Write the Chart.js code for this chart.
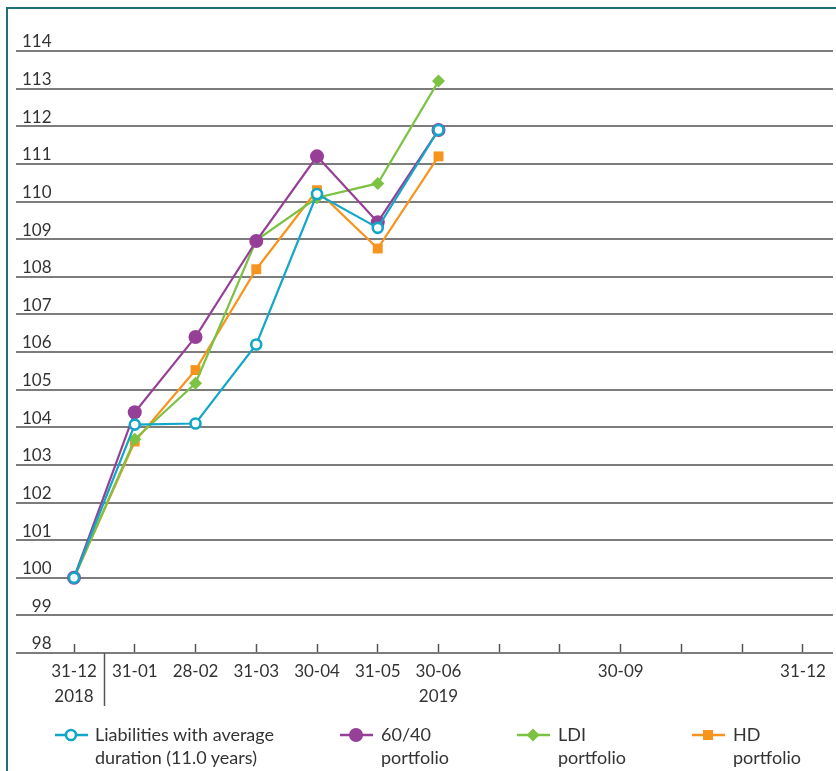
<!DOCTYPE html>
<html>
<head>
<meta charset="utf-8">
<script src="https://cdn.jsdelivr.net/npm/chart.js@4/dist/chart.umd.min.js"></script>
<style>
  html, body { margin: 0; padding: 0; background: #fff; }
  #wrap { position: relative; width: 836px; height: 771px; overflow: hidden; font-family: Lato, "Open Sans", sans-serif; }
  #frame { position: absolute; left: 6px; top: 7px; right: 0; bottom: 0; border-left: 2px solid #1f6f78; border-top: 2px solid #1f6f78; pointer-events: none; }
  canvas { position: absolute; left: 0; top: 0; }
  .item { position: absolute; top: 0; }
  .item svg { position: absolute; top: 724px; }
  .item .txt { position: absolute; top: 723px; font-size: 18px; line-height: 22.5px; color: #333; white-space: nowrap; }
</style>
</head>
<body>
<div id="wrap">
  <canvas id="c" width="836" height="771"></canvas>
  <div id="frame"></div>
  <div id="legend"></div>
</div>
<script>
// Month-end dates on the x axis (index 0 = 31-12-2018), with year captions
const dateLabels = ['31-12', '31-01', '28-02', '31-03', '30-04', '31-05', '30-06', '', '', '30-09', '', '', '31-12'];
const yearLabels = ['2018', '', '', '', '', '', '2019', '', '', '', '', '', ''];

// Index values, rebased to 100 at 31-12-2018
const liabilities = [100, 104.07, 104.1, 106.2, 110.2, 109.3, 111.9];
const portfolio6040 = [100, 104.4, 106.4, 108.95, 111.2, 109.45, 111.9];
const ldiPortfolio = [100, 103.68, 105.17, 108.97, 110.1, 110.48, 113.2];
const hdPortfolio = [100, 103.62, 105.52, 108.2, 110.3, 108.75, 111.2];

// Value axis range
const yMin = 98;
const yMax = 114;

const seriesNames = [
  ['Liabilities with average', 'duration (11.0 years)'],
  ['60/40', 'portfolio'],
  ['LDI', 'portfolio'],
  ['HD', 'portfolio']
];

const colors = ['#12a6c8', '#963f97', '#7cc243', '#f7941e'];

const toPoints = arr => arr.map((v, i) => ({ x: i, y: v }));

const datasets = [
  { label: seriesNames[0].join(' '), data: toPoints(liabilities), borderColor: colors[0], backgroundColor: '#ffffff',
    pointStyle: 'circle', pointRadius: 5, pointBorderWidth: 2.6, pointBorderColor: colors[0], pointBackgroundColor: '#ffffff' },
  { label: seriesNames[1].join(' '), data: toPoints(portfolio6040), borderColor: colors[1], backgroundColor: colors[1],
    pointStyle: 'circle', pointRadius: 7, pointBorderWidth: 0, pointBackgroundColor: colors[1] },
  { label: seriesNames[2].join(' '), data: toPoints(ldiPortfolio), borderColor: colors[2], backgroundColor: colors[2],
    pointStyle: 'rectRot', pointRadius: 6.5, pointBorderWidth: 0, pointBackgroundColor: colors[2] },
  { label: seriesNames[3].join(' '), data: toPoints(hdPortfolio), borderColor: colors[3], backgroundColor: colors[3],
    pointStyle: 'rect', pointRadius: 7, pointBorderWidth: 0, pointBackgroundColor: colors[3] }
];
datasets.forEach(d => { d.borderWidth = 2.2; d.tension = 0; d.fill = false; });

// Short vertical rule under the axis separating 2018 from 2019
const yearDivider = {
  id: 'yearDivider',
  afterDraw(chart) {
    const x = Math.round(chart.scales.x.getPixelForValue(0.5)) + 0.5;
    const top = chart.chartArea.bottom;
    const ctx = chart.ctx;
    ctx.save();
    ctx.strokeStyle = '#555';
    ctx.lineWidth = 1.5;
    ctx.beginPath();
    ctx.moveTo(x, top);
    ctx.lineTo(x, top + 53);
    ctx.stroke();
    ctx.restore();
  }
};

Chart.defaults.font.family = 'Lato, "Open Sans", sans-serif';
Chart.defaults.color = '#333';

new Chart(document.getElementById('c'), {
  type: 'line',
  data: { datasets },
  options: {
    responsive: false,
    animation: false,
    devicePixelRatio: 1,
    layout: { autoPadding: false, padding: { left: 16, right: 3, top: 51, bottom: 58 } },
    plugins: { legend: { display: false }, tooltip: { enabled: false } },
    scales: {
      x: {
        type: 'linear',
        min: -0.955,
        max: 12.494,
        // one tick per month-end, 0..12
        afterBuildTicks(scale) {
          scale.ticks = dateLabels.map((_, i) => ({ value: i }));
        },
        afterFit(scale) {
          scale.height = 60;
          scale.paddingLeft = 0;
          scale.paddingRight = 0;
        },
        border: { display: false },
        grid: { drawOnChartArea: true, display: true, drawTicks: true, tickLength: -9, color: 'rgba(0,0,0,0)', tickColor: '#555', tickWidth: 1.5 },
        ticks: {
          stepSize: 1,
          autoSkip: false,
          maxRotation: 0,
          padding: 15,
          color: '#333',
          font: { size: 17, lineHeight: 25 / 17 },
          callback(value) {
            const i = Math.round(value);
            const d = dateLabels[i] || '';
            const yr = yearLabels[i] || '';
            return yr ? [d, yr] : d;
          }
        }
      },
      y: {
        min: yMin,
        max: yMax,
        afterFit(scale) { scale.width = 0; },
        border: { display: false },
        grid: { color: '#7c7c7c', lineWidth: 2, drawTicks: false },
        ticks: {
          stepSize: 1,
          mirror: true,
          crossAlign: 'far',
          padding: 6,
          labelOffset: -9,
          color: '#333',
          font: { size: 17 }
        }
      }
    }
  },
  plugins: [yearDivider]
});

// Legend below the chart: line-and-marker key with two-line captions
const legendPos = [
  { marker: 55, text: 95 },
  { marker: 340, text: 381 },
  { marker: 517, text: 558 },
  { marker: 692, text: 733 }
];
const markerSvg = [
  '<circle cx="16" cy="11" r="5" fill="#fff" stroke="' + colors[0] + '" stroke-width="2.6"/>',
  '<circle cx="16" cy="11" r="7" fill="' + colors[1] + '"/>',
  '<polygon points="16,4.5 22.5,11 16,17.5 9.5,11" fill="' + colors[2] + '"/>',
  '<rect x="11" y="6" width="10" height="10" fill="' + colors[3] + '"/>'
];
const legendEl = document.getElementById('legend');
seriesNames.forEach((lines, i) => {
  const item = document.createElement('div');
  item.className = 'item';
  item.innerHTML =
    '<svg width="33" height="22" style="left:' + legendPos[i].marker + 'px">' +
    '<line x1="0" y1="11" x2="33" y2="11" stroke="' + colors[i] + '" stroke-width="2.4"/>' + markerSvg[i] + '</svg>' +
    '<div class="txt" style="left:' + legendPos[i].text + 'px">' + lines.join('<br>') + '</div>';
  legendEl.appendChild(item);
});
</script>
</body>
</html>
